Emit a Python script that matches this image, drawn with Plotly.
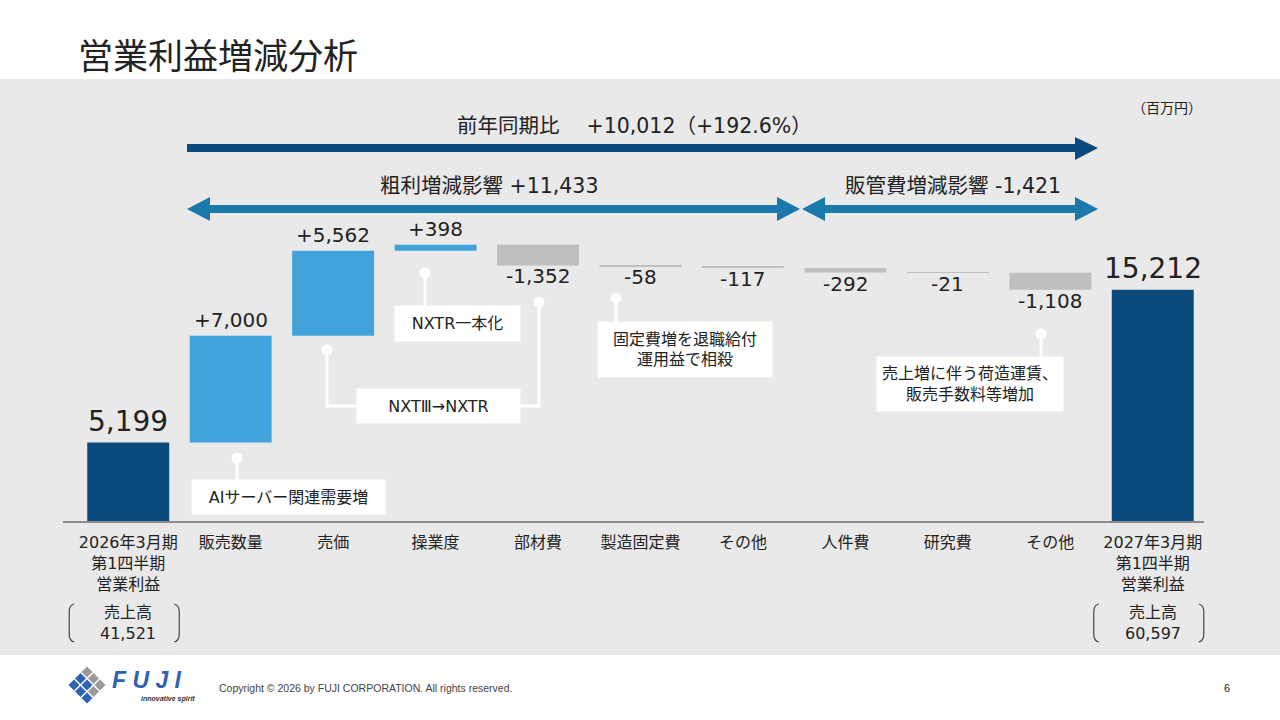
import plotly.graph_objects as go

# data (百万円)
categories = ["2026年3月期<br>第1四半期<br>営業利益", "販売数量", "売価", "操業度", "部材費",
              "製造固定費", "その他", "人件費", "研究費", "その他",
              "2027年3月期<br>第1四半期<br>営業利益"]
values = [5199, 7000, 5562, 398, -1352, -58, -117, -292, -21, -1108, 15212]
measures = ["absolute"] + ["relative"] * 9 + ["absolute"]
sales_labels = ["売上高", "売上高"]
sales = [41521, 60597]
yoy_diff = 10012
yoy_pct = 192.6
gross_effect = 11433
sga_effect = -1421

notes = ["AIサーバー関連需要増", "NXTR一本化", "NXTⅢ→NXTR",
         "固定費増を退職給付<br>運用益で相殺", "売上増に伴う荷造運賃、<br>販売手数料等増加"]

FONT = "DejaVu Sans, Noto Sans CJK JP"
NAVY = "#0b4a7a"
LIGHT = "#42a3da"
GREY = "#bfbfbf"
ARROW2 = "#1a78aa"

W, H = 1280, 720
L, R, T, B = 77, 76, 80, 198
PW, PH = W - L - R, H - T - B


def px(x):
    return (x - L) / PW


def py(y):
    return (H - B - y) / PH


def path(points, close=True):
    s = "M " + " L ".join(f"{px(x):.5f},{py(y):.5f}" for x, y in points)
    return s + (" Z" if close else "")


fig = go.Figure()
fig.add_trace(go.Waterfall(
    x=list(range(len(values))), y=values, measure=measures,
    increasing=dict(marker=dict(color=LIGHT)),
    decreasing=dict(marker=dict(color=GREY)),
    totals=dict(marker=dict(color=NAVY)),
    connector=dict(visible=False),
    hoverinfo="skip", showlegend=False,
))

# value labels
run = 0
annotations = []
for i, (v, m) in enumerate(zip(values, measures)):
    if m == "absolute":
        run = v
        annotations.append(dict(x=i, y=v, text=f"{v:,}", yanchor="bottom", yshift=3,
                                font=dict(size=28, color="#222")))
    else:
        run += v
        if v > 0:
            annotations.append(dict(x=i, y=run, text=f"{v:+,}", yanchor="bottom", yshift=2,
                                    font=dict(size=20, color="#222")))
        else:
            annotations.append(dict(x=i, y=run, text=f"{v:+,}", yanchor="top", yshift=3,
                                    font=dict(size=20, color="#222")))
for a in annotations:
    a.update(xref="x", yref="y", showarrow=False, xanchor="center")
    a["font"]["family"] = FONT

shapes = []
# grey panel
shapes.append(dict(type="rect", xref="paper", yref="paper", x0=px(0), x1=px(W), y0=py(655), y1=py(79),
                   fillcolor="#e9e9e9", line=dict(width=0), layer="below"))
# baseline
shapes.append(dict(type="line", xref="paper", yref="paper", x0=px(63), x1=px(1204), y0=py(522), y1=py(522),
                   line=dict(color="#8c8c8c", width=2)))

# arrows
shapes.append(dict(type="rect", xref="paper", yref="paper", x0=px(187), x1=px(1077), y0=py(152), y1=py(144),
                   fillcolor=NAVY, line=dict(width=0)))
shapes.append(dict(type="path", xref="paper", yref="paper", path=path([(1075, 137), (1098, 148), (1075, 160)]),
                   fillcolor=NAVY, line=dict(width=0)))
for a, b in [(187, 800), (802, 1098)]:
    shapes.append(dict(type="rect", xref="paper", yref="paper", x0=px(a + 22), x1=px(b - 22),
                       y0=py(213), y1=py(205), fillcolor=ARROW2, line=dict(width=0)))
    shapes.append(dict(type="path", xref="paper", yref="paper",
                       path=path([(a, 209), (a + 23, 197), (a + 23, 221)]), fillcolor=ARROW2, line=dict(width=0)))
    shapes.append(dict(type="path", xref="paper", yref="paper",
                       path=path([(b, 209), (b - 23, 197), (b - 23, 221)]), fillcolor=ARROW2, line=dict(width=0)))

# callout connectors
connectors = [
    [(237, 458), (237, 480)],
    [(425, 273), (425, 306)],
    [(327, 350), (327, 406), (357, 406)],
    [(539, 302), (539, 406), (520, 406)],
    [(616, 298), (616, 322)],
    [(1041, 334), (1041, 357)],
]
for c in connectors:
    shapes.append(dict(type="path", xref="paper", yref="paper", path=path(c, close=False),
                       line=dict(color="white", width=3)))
    x, y = c[0]
    shapes.append(dict(type="circle", xref="paper", yref="paper", x0=px(x - 5.5), x1=px(x + 5.5),
                       y0=py(y + 5.5), y1=py(y - 5.5), fillcolor="white", line=dict(width=0)))

boxes = [(192, 385, 480, 514), (395, 520, 306, 341), (357, 520, 389, 423),
         (598, 772, 322, 377), (877, 1063, 357, 411)]
for (x0, x1, y0, y1), t in zip(boxes, notes):
    annotations.append(dict(xref="paper", yref="paper", x=px((x0 + x1) / 2), y=py((y0 + y1) / 2),
                            text=t, width=x1 - x0, height=y1 - y0, bgcolor="white", borderpad=0,
                            font=dict(family=FONT, size=16, color="#222")))

# arrow texts
annotations.append(dict(xref="paper", yref="paper", x=px(634), y=py(126),
                        text=f"前年同期比　 {yoy_diff:+,}（{yoy_pct:+.1f}%）",
                        font=dict(family=FONT, size=20.5, color="#222")))
annotations.append(dict(xref="paper", yref="paper", x=px(489), y=py(186),
                        text=f"粗利増減影響 {gross_effect:+,}",
                        font=dict(family=FONT, size=20.5, color="#222")))
annotations.append(dict(xref="paper", yref="paper", x=px(953), y=py(186),
                        text=f"販管費増減影響 {sga_effect:+,}",
                        font=dict(family=FONT, size=20.5, color="#222")))
annotations.append(dict(xref="paper", yref="paper", x=px(1167), y=py(108), text="（百万円）",
                        font=dict(family=FONT, size=14, color="#222")))

# title
annotations.append(dict(xref="paper", yref="paper", x=px(76), y=py(54), xanchor="left", text="営業利益増減分析",
                        font=dict(family="Noto Sans CJK JP", size=35, color="#222")))

# sales brackets
for xi, lab, s in zip([0, len(values) - 1], sales_labels, sales):
    cx = L + (xi + 0.5) * PW / len(values)
    annotations.append(dict(xref="paper", yref="paper", x=px(cx), y=py(623), text=f"{lab}<br>{s:,}",
                            font=dict(family=FONT, size=16, color="#222")))
    lx, rx = cx - 59, cx + 51
    for x, d in [(lx, 1), (rx, -1)]:
        p = (f"M {px(x + 5 * d):.5f},{py(604):.5f} Q {px(x):.5f},{py(605):.5f} {px(x):.5f},{py(612):.5f} "
             f"L {px(x):.5f},{py(634):.5f} Q {px(x):.5f},{py(641):.5f} {px(x + 5 * d):.5f},{py(642):.5f}")
        shapes.append(dict(type="path", xref="paper", yref="paper", path=p, line=dict(color="#444", width=1.2)))

# footer: logo + copyright
for i in range(3):
    for j in range(3):
        cx, cy = 87 + (j - i) * 6.5, 672 + (i + j) * 6.5
        col = "#9a9a9a" if (i == 0 or (i == 1 and j == 2)) else "#2f62b5"
        shapes.append(dict(type="path", xref="paper", yref="paper",
                           path=path([(cx, cy - 5.5), (cx + 5.5, cy), (cx, cy + 5.5), (cx - 5.5, cy)]),
                           fillcolor=col, line=dict(width=0)))
annotations.append(dict(xref="paper", yref="paper", x=px(110), y=py(680), xanchor="left",
                        text="<b><i>F U J I</i></b>",
                        font=dict(family="Liberation Sans", size=23, color="#2f62b5")))
annotations.append(dict(xref="paper", yref="paper", x=px(197), y=py(699), xanchor="right",
                        text="<b><i>innovative spirit</i></b>",
                        font=dict(family="Liberation Sans", size=7, color="#333")))
annotations.append(dict(xref="paper", yref="paper", x=px(217), y=py(688), xanchor="left",
                        text="Copyright © 2026 by FUJI CORPORATION. All rights reserved.",
                        font=dict(family="Liberation Sans", size=10.5, color="#444")))
annotations.append(dict(xref="paper", yref="paper", x=px(1227), y=py(688), text="6",
                        font=dict(family="Liberation Sans", size=11, color="#222")))

for a in annotations:
    a.setdefault("showarrow", False)
    a.setdefault("xanchor", "center")
    a.setdefault("yanchor", "middle")

fig.update_layout(
    width=W, height=H, margin=dict(l=L, r=R, t=T, b=B),
    paper_bgcolor="white", plot_bgcolor="rgba(0,0,0,0)",
    waterfallgap=0.2, showlegend=False,
    xaxis=dict(range=[-0.5, len(values) - 0.5], tickvals=list(range(len(values))), ticktext=categories,
               showgrid=False, zeroline=False, showline=False, ticks="", ticklabelstandoff=9,
               tickfont=dict(family=FONT, size=16, color="#222"), fixedrange=True),
    yaxis=dict(range=[0, 28950], visible=False, fixedrange=True),
    shapes=shapes, annotations=annotations,
)

fig.write_html("out.html", config={"displayModeBar": False},
               post_script="document.body.style.margin='0';document.body.style.overflow='hidden';")
